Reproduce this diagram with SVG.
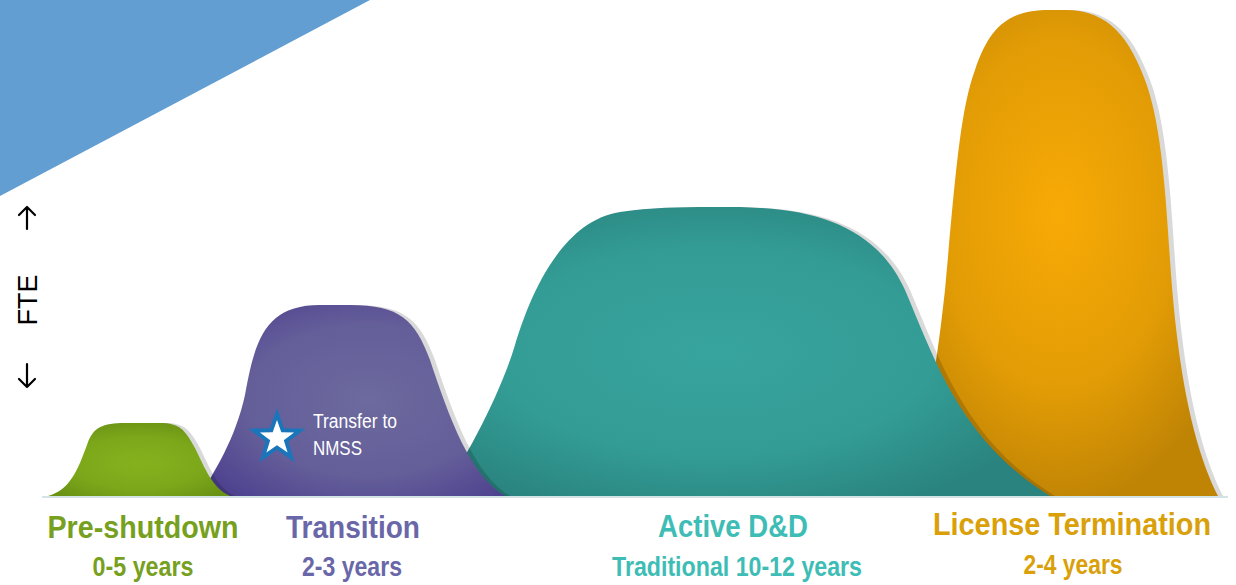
<svg xmlns="http://www.w3.org/2000/svg" width="1236" height="585" viewBox="0 0 1236 585">
<defs>
<radialGradient id="gGreen" cx="0.5" cy="0.55" r="0.6">
<stop offset="0" stop-color="#86b11e"/><stop offset="0.6" stop-color="#7ca71a"/><stop offset="1" stop-color="#6a9314"/>
</radialGradient>
<radialGradient id="gPurple" cx="0.55" cy="0.5" r="0.8">
<stop offset="0" stop-color="#6c6a9e"/><stop offset="0.5" stop-color="#645e99"/><stop offset="1" stop-color="#42328a"/>
</radialGradient>
<radialGradient id="gTeal" cx="0.45" cy="0.5" r="0.6">
<stop offset="0" stop-color="#37a49d"/><stop offset="0.6" stop-color="#339c95"/><stop offset="1" stop-color="#2a837e"/>
</radialGradient>
<radialGradient id="gOrange" cx="0.5" cy="0.42" r="0.6">
<stop offset="0" stop-color="#f8aa06"/><stop offset="0.6" stop-color="#e29c05"/><stop offset="1" stop-color="#c08405"/>
</radialGradient>
<style>
.sh{fill:#000;fill-opacity:0.15}
.lbl{font-family:"Liberation Sans",Arial,sans-serif;font-weight:bold;text-anchor:middle}
.green{fill:#76a01e}.purple{fill:#6a67a8}.teal{fill:#3dbdb5}.orange{fill:#d9a00a}
.note{font-family:"Liberation Sans",Arial,sans-serif;fill:#fff;font-size:20px}
.arr{stroke:#000;stroke-width:2.2;fill:none;stroke-linecap:round;stroke-linejoin:round}
</style>
</defs>
<rect width="1236" height="585" fill="#fff"/>
<polygon id="corner" points="0,0 370,0 0,196" fill="#629ed1"/>
<rect x="42" y="496" width="1186" height="2" fill="#d4e4e6"/>

<g id="license-termination">
<path class="sh" transform="translate(5,0)" d="M900,496 C925,440 935,380 945,290 C955,180 960,110 975,70 C990,25 1010,10 1050,10 L1065,10 C1110,10 1130,40 1145,80 C1160,120 1165,180 1170,260 C1178,380 1195,450 1218,496 Z"/>
<path fill="url(#gOrange)" d="M900,496 C925,440 935,380 945,290 C955,180 960,110 975,70 C990,25 1010,10 1050,10 L1065,10 C1110,10 1130,40 1145,80 C1160,120 1165,180 1170,260 C1178,380 1195,450 1218,496 Z"/>
</g>
<g id="active-dd">
<path class="sh" transform="translate(5,0)" d="M440,496 C465,460 500,395 515,345 C525,312 555,222 620,212 C660,206 700,207 740,207 L760,208 C830,212 880,235 905,290 C935,360 960,440 1050,496 Z"/>
<path fill="url(#gTeal)" d="M440,496 C465,460 500,395 515,345 C525,312 555,222 620,212 C660,206 700,207 740,207 L760,208 C830,212 880,235 905,290 C935,360 960,440 1050,496 Z"/>
</g>
<g id="transition">
<path class="sh" transform="translate(5,0)" d="M200,496 C215,470 235,440 245,395 C255,340 265,305 320,305 L350,305 C400,305 415,320 430,360 C450,420 470,475 505,496 Z"/>
<path fill="url(#gPurple)" d="M200,496 C215,470 235,440 245,395 C255,340 265,305 320,305 L350,305 C400,305 415,320 430,360 C450,420 470,475 505,496 Z"/>
<g id="star">
<polygon fill="#1b75bb" points="277,408 284.1,428.3 305.5,428.7 288.4,441.7 294.6,462.3 277,450 259.4,462.3 265.6,441.7 248.5,428.7 269.9,428.3"/>
<polygon fill="#fff" points="277,420 281.3,432.2 294.1,432.4 283.8,440.2 287.6,452.6 277,445.2 266.4,452.6 270.2,440.2 259.9,432.4 272.7,432.2"/>
</g>
<text class="note" x="313" y="428" textLength="84" lengthAdjust="spacingAndGlyphs">Transfer to</text>
<text class="note" x="313" y="455" textLength="49" lengthAdjust="spacingAndGlyphs">NMSS</text>
</g>
<g id="pre-shutdown">
<path class="sh" transform="translate(5,0)" d="M48,496 C70,490 78,470 88,442 C95,425 105,423 130,423 L160,423 C180,423 185,430 195,448 C205,468 212,488 230,496 Z"/>
<path fill="url(#gGreen)" d="M48,496 C70,490 78,470 88,442 C95,425 105,423 130,423 L160,423 C180,423 185,430 195,448 C205,468 212,488 230,496 Z"/>
</g>

<g id="labels">
<text class="lbl green" x="143" y="538" font-size="32" textLength="191" lengthAdjust="spacingAndGlyphs">Pre-shutdown</text>
<text class="lbl green" x="143" y="576" font-size="27" textLength="101" lengthAdjust="spacingAndGlyphs">0-5 years</text>
<text class="lbl purple" x="353" y="538" font-size="32" textLength="134" lengthAdjust="spacingAndGlyphs">Transition</text>
<text class="lbl purple" x="352" y="576" font-size="27" textLength="100" lengthAdjust="spacingAndGlyphs">2-3 years</text>
<text class="lbl teal" x="733" y="537" font-size="32" textLength="150" lengthAdjust="spacingAndGlyphs">Active  D&amp;D</text>
<text class="lbl teal" x="737" y="576" font-size="27" textLength="250" lengthAdjust="spacingAndGlyphs">Traditional  10-12 years</text>
<text class="lbl orange" x="1072" y="535" font-size="31" textLength="278" lengthAdjust="spacingAndGlyphs">License Termination</text>
<text class="lbl orange" x="1073" y="574" font-size="27" textLength="99" lengthAdjust="spacingAndGlyphs">2-4 years</text>
</g>

<g id="axis">
<path class="arr" d="M27,229 L27,207 M19,215 L27,207 L35,215"/>
<text x="37" y="300" transform="rotate(-90 37 300)" font-family="Liberation Sans, Arial, sans-serif" font-size="27" text-anchor="middle" fill="#000">FTE</text>
<path class="arr" d="M27,364 L27,387 M19,379 L27,387 L35,379"/>
</g>
<g id="connectors"/>
</svg>
